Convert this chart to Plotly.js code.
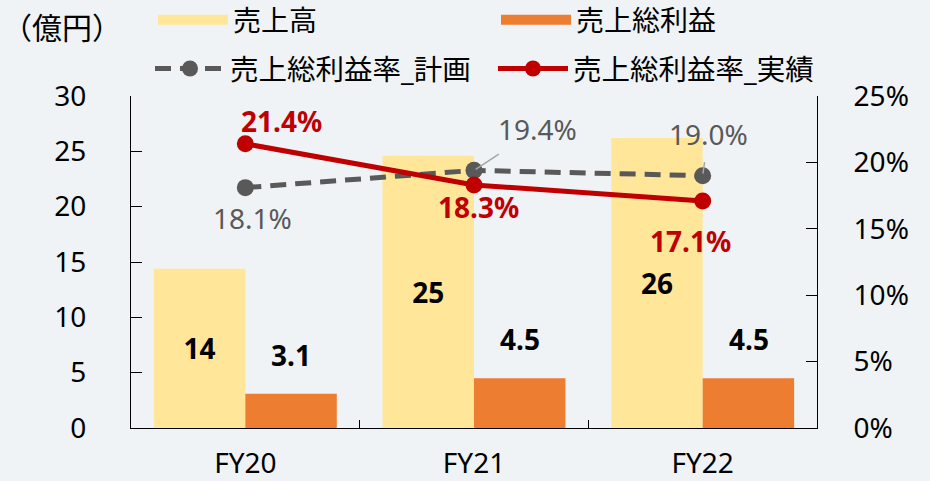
<!DOCTYPE html>
<html>
<head>
<meta charset="utf-8">
<script src="https://cdn.plot.ly/plotly-3.0.1.min.js"></script>
<style>html,body{margin:0;padding:0;background:#eff3f5;}#chart{width:930px;height:481px;}</style>
</head>
<body>
<div id="chart"></div>
<script>
const categories = ['FY20', 'FY21', 'FY22'];
const sales = [14.4, 24.6, 26.2];
const grossProfit = [3.1, 4.5, 4.5];
const marginPlan = [18.1, 19.4, 19.0];
const marginActual = [21.4, 18.3, 17.1];
const seriesNames = ['売上高', '売上総利益', '売上総利益率_計画', '売上総利益率_実績'];
const unitLabel = '（億円）';

const FONT = 'Noto Sans, Noto Sans CJK JP, sans-serif';
const C_SALES = '#ffe699', C_GP = '#ed7d31', C_PLAN = '#595959', C_ACT = '#c00000';

const traces = [
  {type: 'bar', name: seriesNames[0], x: categories, y: sales, marker: {color: C_SALES},
   texttemplate: '%{y:.0f}', textposition: 'inside', insidetextanchor: 'middle',
   textfont: {family: FONT, size: 28, color: '#000', weight: 'bold'}, showlegend: false, hoverinfo: 'skip'},
  {type: 'bar', name: seriesNames[1], x: categories, y: grossProfit, marker: {color: C_GP},
   textposition: 'none', showlegend: false, hoverinfo: 'skip'},
  // legend swatches for bars
  {type: 'scatter', mode: 'lines', name: seriesNames[0], x: [null], y: [null], line: {color: C_SALES, width: 18}, legend: 'legend'},
  {type: 'scatter', mode: 'lines', name: seriesNames[1], x: [null], y: [null], line: {color: C_GP, width: 18}, legend: 'legend2'},
  {type: 'scatter', mode: 'lines+markers', name: seriesNames[2], x: categories, y: marginPlan, yaxis: 'y2',
   line: {color: C_PLAN, width: 5, dash: '16px,9px'}, marker: {color: C_PLAN, size: 17}, legend: 'legend3', hoverinfo: 'skip'},
  {type: 'scatter', mode: 'lines+markers', name: seriesNames[3], x: categories, y: marginActual, yaxis: 'y2',
   line: {color: C_ACT, width: 5}, marker: {color: C_ACT, size: 17}, legend: 'legend4', hoverinfo: 'skip'}
];

const annotations = [];
// gross profit labels above bars
grossProfit.forEach((v, i) => annotations.push({
  xref: 'x', yref: 'y', x: categories[i], y: v, xshift: 46, yshift: 18, yanchor: 'bottom',
  text: v.toFixed(1), showarrow: false, font: {family: FONT, size: 28, color: '#000', weight: 'bold'}
}));
// plan labels
const planOffsets = [[7, -30, false], [63, 41, true], [6, 42, true]];
marginPlan.forEach((v, i) => {
  const o = planOffsets[i];
  const a = {xref: 'x', yref: 'y2', x: categories[i], y: v, text: v.toFixed(1) + '%',
    font: {family: FONT, size: 28, color: C_PLAN}};
  if (o[2]) {
    Object.assign(a, {showarrow: true, ax: o[0], ay: -o[1], arrowhead: 0, arrowwidth: 1.5,
      arrowcolor: '#a6a6a6', standoff: 2, startstandoff: 8});
  } else {
    Object.assign(a, {showarrow: false, xshift: o[0], yshift: o[1]});
  }
  annotations.push(a);
});
// actual labels
const actOffsets = [[36, 23], [4, -22], [-12, -40]];
marginActual.forEach((v, i) => annotations.push({
  xref: 'x', yref: 'y2', x: categories[i], y: v, text: v.toFixed(1) + '%', showarrow: false,
  xshift: actOffsets[i][0], yshift: actOffsets[i][1],
  font: {family: FONT, size: 28, color: C_ACT, weight: 'bold'}
}));
annotations.push({xref: 'paper', yref: 'paper', x: (62 - 131) / 686, y: (481 - 53 - 27) / 332,
  xanchor: 'center', yanchor: 'middle', text: unitLabel, showarrow: false,
  font: {family: FONT, size: 30, color: '#000'}});

const legendCommon = {orientation: 'h', xref: 'container', yref: 'container', xanchor: 'left', yanchor: 'middle',
  bgcolor: 'rgba(0,0,0,0)', font: {family: FONT, size: 28.5, color: '#000'}, itemwidth: 70};

const layout = {
  width: 930, height: 481,
  paper_bgcolor: '#eff3f5', plot_bgcolor: '#eff3f5',
  margin: {l: 131, r: 113, t: 96, b: 53, autoexpand: false},
  font: {family: FONT, size: 28, color: '#000'},
  barmode: 'group', bargap: 0.2, bargroupgap: 0,
  xaxis: {type: 'category', range: [-0.5, 2.5], showline: true, linecolor: '#000', linewidth: 1,
    ticks: 'inside', tickson: 'boundaries', ticklen: 8, tickcolor: '#000',
    tickfont: {family: FONT, size: 28, color: '#000'}, ticklabelstandoff: 10, showgrid: false, zeroline: false},
  yaxis: {range: [0, 30], dtick: 5, showline: true, linecolor: '#000', linewidth: 1,
    ticks: 'inside', ticklen: 11, tickcolor: '#000', showgrid: false, zeroline: false,
    tickfont: {family: FONT, size: 28, color: '#000'}, ticklabelstandoff: 38},
  yaxis2: {range: [0, 25], dtick: 5, ticksuffix: '%', overlaying: 'y', side: 'right', showline: true,
    linecolor: '#000', linewidth: 1, ticks: 'inside', ticklen: 11, tickcolor: '#000', showgrid: false, zeroline: false,
    tickfont: {family: FONT, size: 28, color: '#000'}, ticklabelstandoff: 30},
  legend: Object.assign({}, legendCommon, {x: 153 / 930, y: 1 - 20 / 481, font: {family: FONT, size: 28, color: '#000'}}),
  legend2: Object.assign({}, legendCommon, {x: 496 / 930, y: 1 - 20 / 481, font: {family: FONT, size: 28, color: '#000'}}),
  legend3: Object.assign({}, legendCommon, {x: 150 / 930, y: 1 - 69 / 481}),
  legend4: Object.assign({}, legendCommon, {x: 493 / 930, y: 1 - 69 / 481}),
  annotations: annotations,
  showlegend: true
};

Plotly.newPlot('chart', traces, layout, {displayModeBar: false, staticPlot: true});
</script>
</body>
</html>
